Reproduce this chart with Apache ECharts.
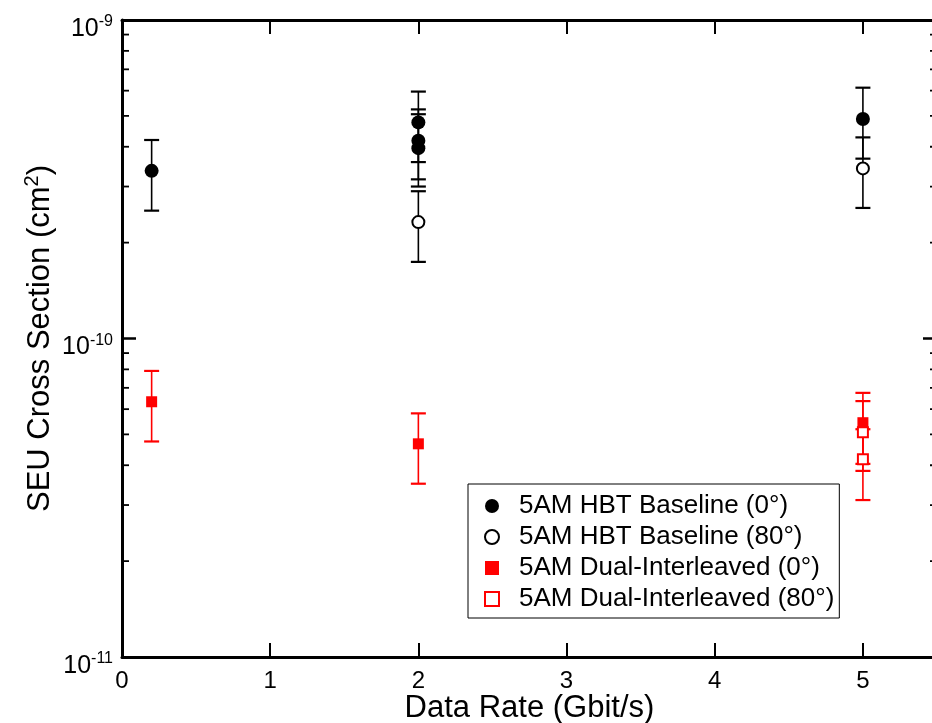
<!DOCTYPE html>
<html>
<head>
<meta charset="utf-8">
<script src="https://cdn.jsdelivr.net/npm/echarts@6/dist/echarts.min.js"></script>
<style>
html,body{margin:0;padding:0;background:#fff;}
#chart{width:932px;height:723px;}
</style>
</head>
<body>
<div id="chart"></div>
<script>
// ---- data ----
const seriesNames = ['5AM HBT Baseline (0°)', '5AM HBT Baseline (80°)', '5AM Dual-Interleaved (0°)', '5AM Dual-Interleaved (80°)'];

const hbt0_x  = [0.2, 2, 2, 2, 5];
const hbt0_y  = [3.36e-10, 4.77e-10, 4.18e-10, 3.96e-10, 4.89e-10];
const hbt0_lo = [2.52e-10, 3.58e-10, 3.16e-10, 3.00e-10, 3.67e-10];
const hbt0_hi = [4.20e-10, 5.96e-10, 5.24e-10, 5.06e-10, 6.13e-10];

const hbt80_x  = [2, 5];
const hbt80_y  = [2.32e-10, 3.42e-10];
const hbt80_lo = [1.74e-10, 2.57e-10];
const hbt80_hi = [2.90e-10, 4.28e-10];

const dual0_x  = [0.2, 2, 5];
const dual0_y  = [6.33e-11, 4.67e-11, 5.44e-11];
const dual0_lo = [4.75e-11, 3.50e-11, 4.04e-11];
const dual0_hi = [7.91e-11, 5.82e-11, 6.75e-11];

const dual80_x  = [5, 5];
const dual80_y  = [5.08e-11, 4.18e-11];
const dual80_lo = [3.84e-11, 3.11e-11];
const dual80_hi = [6.36e-11, 5.19e-11];

const xTicks = [0, 1, 2, 3, 4, 5];
const minorTickVals = [2e-11,3e-11,4e-11,5e-11,6e-11,7e-11,8e-11,9e-11,
                       2e-10,3e-10,4e-10,5e-10,6e-10,7e-10,8e-10,9e-10];

// ---- helpers ----
const FONT = 'Liberation Sans, Arial, sans-serif';
const X_MIN = 0, X_MAX = 5.5, Y_MIN = 1e-11, Y_MAX = 1e-9;

function pts(xs, ys){ return xs.map((x,i)=>[x, ys[i]]); }
function errs(xs, lo, hi){ return xs.map((x,i)=>[x, lo[i], hi[i]]); }

function errorSeries(data, color){
  return {
    type:'custom', data: data, z: 2,
    encode:{x:0, y:[1,2]},
    silent:true,
    renderItem:function(params, api){
      const x = api.value(0), lo = api.value(1), hi = api.value(2);
      const pt = api.coord([x, hi]), pb = api.coord([x, lo]);
      const w = 7.5;
      return {type:'group', children:[
        {type:'line', shape:{x1:pt[0], y1:pt[1], x2:pb[0], y2:pb[1]}, style:{stroke:color, lineWidth:1.6}},
        {type:'line', shape:{x1:pt[0]-w, y1:pt[1], x2:pt[0]+w, y2:pt[1]}, style:{stroke:color, lineWidth:2.2}},
        {type:'line', shape:{x1:pb[0]-w, y1:pb[1], x2:pb[0]+w, y2:pb[1]}, style:{stroke:color, lineWidth:2.2}}
      ]};
    }
  };
}

const chart = echarts.init(document.getElementById('chart'), null, {renderer:'canvas'});

const yLabelRich = {
  b:{fontSize:25, fontFamily:FONT, color:'#000'},
  s:{fontSize:16, fontFamily:FONT, color:'#000', verticalAlign:'top', padding:[0,0,14,0]}
};

const option = {
  backgroundColor:'#fff',
  animation:false,
  textStyle:{fontFamily:FONT},
  grid:{left:122, top:20, right:-5, bottom:66, containLabel:false, outerBoundsMode:'none'},
  legend:{
    orient:'vertical',
    left:468, top:484,
    padding:[9,5,6,16],
    itemGap:5,
    itemWidth:14, itemHeight:14,
    borderColor:'#000', borderWidth:1,
    backgroundColor:'#fff',
    textStyle:{fontSize:26, fontFamily:FONT, color:'#000', padding:[0,0,0,15]},
    data: seriesNames
  },
  xAxis:[{
    type:'value', min:X_MIN, max:X_MAX, interval:1,
    name:'Data Rate (Gbit/s)', nameLocation:'middle', nameGap:36, nameMoveOverlap:false,
    nameTextStyle:{fontSize:31, fontFamily:FONT, color:'#000'},
    axisLine:{onZero:false, lineStyle:{color:'#000', width:3}},
    axisTick:{inside:true, length:14, lineStyle:{color:'#000', width:2}},
    axisLabel:{fontSize:24, fontFamily:FONT, color:'#000', margin:12, showMaxLabel:false,
      formatter:function(v){ return xTicks.indexOf(v) >= 0 ? String(v) : ''; }},
    splitLine:{show:false}
  },{
    type:'value', position:'top', min:X_MIN, max:X_MAX, interval:1,
    axisLine:{onZero:false, lineStyle:{color:'#000', width:3}},
    axisTick:{inside:true, length:14, lineStyle:{color:'#000', width:2}},
    axisLabel:{show:false},
    splitLine:{show:false}
  }],
  yAxis:[{
    type:'log', logBase:10, min:Y_MIN, max:Y_MAX,
    name:'SEU Cross Section (cm{s|2})', nameLocation:'middle', nameGap:64, nameMoveOverlap:false,
    nameTextStyle:{fontSize:31, fontFamily:FONT, color:'#000',
      rich:{s:{fontSize:20, fontFamily:FONT, color:'#000', verticalAlign:'top', padding:[0,0,16,0]}}},
    axisLine:{onZero:false, lineStyle:{color:'#000', width:3}},
    axisTick:{inside:true, length:14, lineStyle:{color:'#000', width:2.5}},
    axisLabel:{margin:9, color:'#000', rich:yLabelRich, padding:[18,0,0,0],
      formatter:function(v){ const e = Math.round(Math.log10(v)); return '{b|10}{s|' + e + '}'; }},
    splitLine:{show:false}
  },{
    type:'log', logBase:10, min:Y_MIN, max:Y_MAX, position:'right',
    axisLine:{onZero:false, lineStyle:{color:'#000', width:3}},
    axisTick:{inside:true, length:14, lineStyle:{color:'#000', width:2.5}},
    axisLabel:{show:false},
    splitLine:{show:false}
  }],
  series:[
    // minor ticks on log axes (left and right)
    {
      type:'custom', data: minorTickVals.map(v=>[X_MIN, v]), silent:true, z:1,
      encode:{x:0, y:1}, clip:false,
      renderItem:function(params, api){
        const v = api.value(1);
        const pl = api.coord([X_MIN, v]), pr = api.coord([X_MAX, v]);
        return {type:'group', children:[
          {type:'line', shape:{x1:pl[0], y1:pl[1], x2:pl[0]+7, y2:pl[1]}, style:{stroke:'#000', lineWidth:1.8}},
          {type:'line', shape:{x1:pr[0]-7, y1:pr[1], x2:pr[0], y2:pr[1]}, style:{stroke:'#000', lineWidth:1.8}}
        ]};
      }
    },
    errorSeries(errs(hbt0_x, hbt0_lo, hbt0_hi), '#000'),
    errorSeries(errs(hbt80_x, hbt80_lo, hbt80_hi), '#000'),
    errorSeries(errs(dual0_x, dual0_lo, dual0_hi), '#ff0000'),
    errorSeries(errs(dual80_x, dual80_lo, dual80_hi), '#ff0000'),
    {
      name:seriesNames[0], type:'scatter', data:pts(hbt0_x, hbt0_y), z:5,
      symbol:'circle', symbolSize:14, itemStyle:{color:'#000', opacity:1}
    },
    {
      name:seriesNames[1], type:'scatter', data:pts(hbt80_x, hbt80_y), z:5,
      symbol:'emptyCircle', symbolSize:12, itemStyle:{color:'#000', borderColor:'#000', borderWidth:2, opacity:1}
    },
    {
      name:seriesNames[2], type:'scatter', data:pts(dual0_x, dual0_y), z:5,
      symbol:'rect', symbolSize:11, itemStyle:{color:'#ff0000', opacity:1}
    },
    {
      name:seriesNames[3], type:'scatter', data:pts(dual80_x, dual80_y), z:5,
      symbol:'emptyRect', symbolSize:10, itemStyle:{color:'#ff0000', borderColor:'#ff0000', borderWidth:2, opacity:1}
    }
  ]
};
chart.setOption(option);
</script>
</body>
</html>
